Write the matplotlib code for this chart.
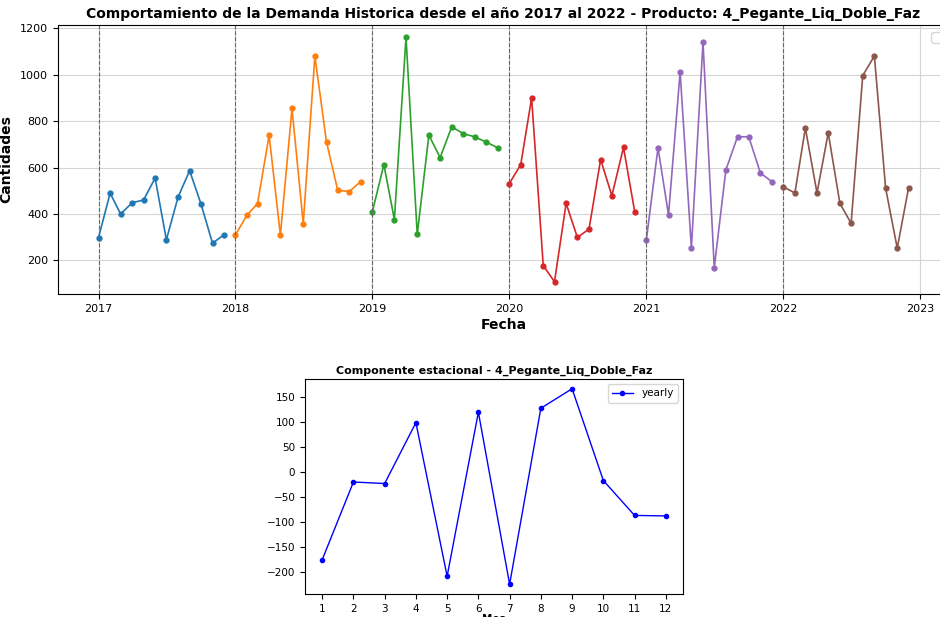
import matplotlib
matplotlib.use("Agg")
import matplotlib.pyplot as plt
import matplotlib.dates as mdates
import numpy as np
import pandas as pd

producto = "4_Pegante_Liq_Doble_Faz"
anios = [2017, 2018, 2019, 2020, 2021, 2022]
demanda = {
    2017: [298, 490, 400, 449, 460, 555, 289, 472, 587, 445, 274, 310],
    2018: [310, 395, 445, 739, 309, 855, 359, 1081, 710, 502, 497, 540],
    2019: [408, 613, 376, 1162, 312, 740, 643, 776, 746, 733, 710, 686],
    2020: [530, 613, 900, 178, 108, 446, 299, 335, 635, 479, 687, 409],
    2021: [289, 686, 396, 1012, 253, 1141, 168, 590, 733, 733, 577, 540],
    2022: [517, 491, 770, 491, 750, 446, 360, 997, 1081, 511, 253, 511],
}
meses = list(range(1, 13))
estacional = [-176, -20, -23, 99, -209, 120, -225, 128, 167, -17, -87, -88]
colores = ["#1f77b4", "#ff7f0e", "#2ca02c", "#d62728", "#9467bd", "#8c564b"]

fig = plt.figure(figsize=(9.40, 6.17), dpi=100)

# Historical demand, one colour per year
ax1 = fig.add_axes([58 / 940, 1 - 294 / 617, 891 / 940, 269 / 617])
for anio, color in zip(anios, colores):
    fechas = pd.date_range(f"{anio}-01-01", periods=12, freq="MS")
    ax1.plot(fechas, demanda[anio], marker="o", markersize=3.5, linewidth=1.2, color=color)
    ax1.axvline(pd.Timestamp(f"{anio}-01-01"), color="#666666", linestyle="--", linewidth=0.8)
ax1.xaxis.set_major_locator(mdates.YearLocator())
ax1.xaxis.set_major_formatter(mdates.DateFormatter("%Y"))
ax1.grid(True, color="#d4d4d4", linewidth=0.8)
ax1.set_axisbelow(True)
ax1.set_title(f"Comportamiento de la Demanda Historica desde el año 2017 al 2022 - Producto: {producto}",
              fontsize=10, fontweight="bold", pad=5)
ax1.set_xlabel("Fecha", fontsize=10, fontweight="bold", labelpad=3)
ax1.set_ylabel("Cantidades", fontsize=10, fontweight="bold", labelpad=5)
ax1.tick_params(labelsize=8)
ax1.legend(handles=[], loc="upper right")

# Yearly seasonal component
ax2 = fig.add_axes([305 / 940, 1 - 594 / 617, 378 / 940, 215 / 617])
ax2.plot(meses, estacional, "b-", marker="o", markersize=3, linewidth=1, label="yearly")
ax2.set_xticks(meses)
ax2.set_title(f"Componente estacional - {producto}", fontsize=8, fontweight="bold", pad=4)
ax2.set_xlabel("Mes", fontsize=7.5, fontweight="bold", labelpad=0)
ax2.tick_params(labelsize=7.5)
ax2.legend(loc="upper right", fontsize=7.5)

fig.savefig("out.png", dpi=100)
